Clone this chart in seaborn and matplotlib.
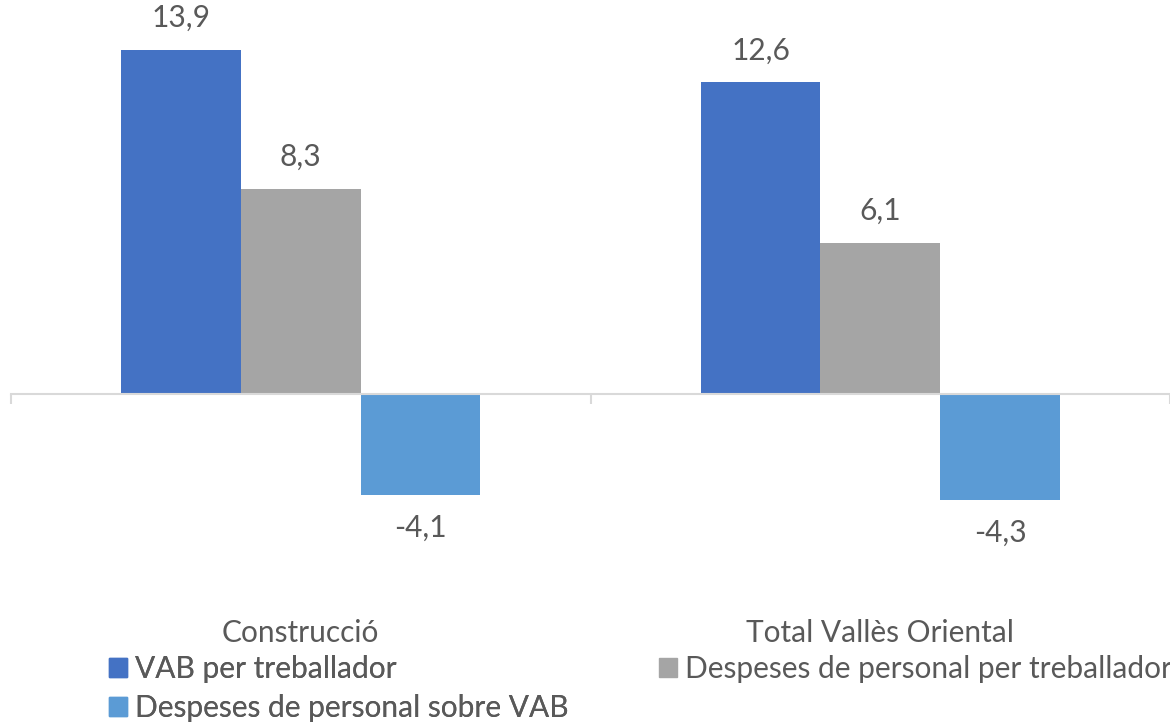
import matplotlib
matplotlib.use("Agg")
import matplotlib.pyplot as plt
import seaborn as sns
import pandas as pd

categories = ["Construcció", "Total Vallès Oriental"]
series = ["VAB per treballador", "Despeses de personal per treballador", "Despeses de personal sobre VAB"]
vab_per_treballador = [13.9, 12.6]
despeses_per_treballador = [8.3, 6.1]
despeses_sobre_vab = [-4.1, -4.3]
colors = ["#4472C4", "#A5A5A5", "#5B9BD5"]

sns.set_theme(style="white")
plt.rcParams["font.family"] = ["Lato", "DejaVu Sans"]
text_color = "#595959"
fs = 21.5

rows = []
for s, vals in zip(series, [vab_per_treballador, despeses_per_treballador, despeses_sobre_vab]):
    for c, v in zip(categories, vals):
        rows.append({"cat": c, "serie": s, "val": v})
df = pd.DataFrame(rows)

fig = plt.figure(figsize=(11.7, 7.22), dpi=100)
ax = fig.add_axes([11 / 1170, 179.5 / 722, 1159 / 1170, 519.5 / 722])

sns.barplot(data=df, x="cat", y="val", hue="serie", order=categories, hue_order=series,
            palette=colors, width=0.62, gap=0, ax=ax, legend=False, errorbar=None,
            saturation=1, edgecolor="none", linewidth=0)

ax.set_xlim(-0.5, 1.5)
ax.set_ylim(-6, 15)
for sp in ["top", "right", "left"]:
    ax.spines[sp].set_visible(False)
ax.spines["bottom"].set_position(("data", 0))
ax.spines["bottom"].set_color("#D9D9D9")
ax.spines["bottom"].set_linewidth(1.5)
ax.set_yticks([])
ax.set_xlabel("")
ax.set_ylabel("")
ax.set_xticks([0, 1])
ax.set_xticklabels(categories, color=text_color, fontsize=fs)
ax.set_xticks([-0.5, 0.5, 1.5], minor=True)
ax.tick_params(axis="x", which="major", length=0, pad=162)
ax.tick_params(axis="x", which="minor", length=7, width=1.5, color="#D9D9D9", direction="out", bottom=True)

for cont in ax.containers:
    labels = [f"{b.get_height():.1f}".replace(".", ",") for b in cont]
    ax.bar_label(cont, labels=labels, padding=13, color=text_color, fontsize=fs)

handles = [plt.Rectangle((0, 0), 1, 1, color=c) for c in colors]
common = dict(loc="center left", frameon=False, fontsize=fs, labelcolor=text_color,
              handlelength=0.6, handleheight=0.6, handletextpad=0.27, labelspacing=0.36,
              borderpad=0, borderaxespad=0)
leg1 = fig.legend([handles[0], handles[2]], [series[0], series[2]],
                  bbox_to_anchor=(109 / 1170, 1 - 688.5 / 722), **common)
fig.add_artist(leg1)
fig.legend([handles[1]], [series[1]], bbox_to_anchor=(659 / 1170, 1 - 669 / 722), **common)

fig.savefig("out.png", dpi=100)
